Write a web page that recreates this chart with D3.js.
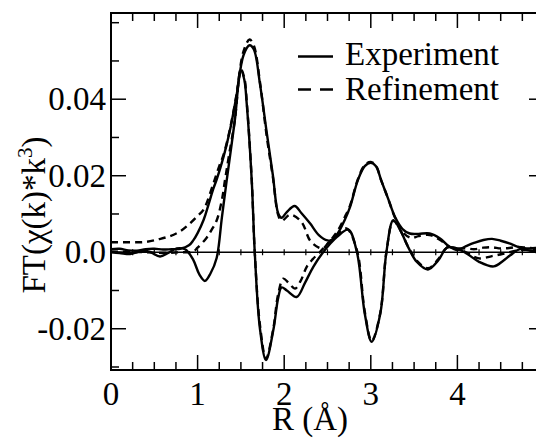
<!DOCTYPE html>
<html>
<head>
<meta charset="utf-8">
<script src="https://cdn.jsdelivr.net/npm/d3@7"></script>
<style>
  html, body { margin: 0; padding: 0; background: #fff; overflow: hidden; }
  svg { display: block; }
  text { font-family: "Liberation Serif", "Times New Roman", serif; fill: #000; }
</style>
</head>
<body>
<svg id="chart" width="536" height="438"></svg>
<script>
// ---- data ----
const xTickLabels = ["0", "1", "2", "3", "4"];
const xTickValues = [0, 1, 2, 3, 4];
const yTickValues = [-0.02, 0.0, 0.02, 0.04];
const yTickLabels = ["-0.02", "0.0", "0.02", "0.04"];
const legendLabels = ["Experiment", "Refinement"];

const rExpMag = [0, 0.1, 0.2, 0.3, 0.4, 0.5, 0.6, 0.7, 0.8, 0.9, 0.95, 1.0, 1.07, 1.12, 1.18, 1.22, 1.3, 1.37, 1.45, 1.53, 1.6, 1.65, 1.72, 1.8, 1.87, 1.93, 1.97, 2.03, 2.12, 2.2, 2.3, 2.4, 2.5, 2.55, 2.62, 2.7, 2.76, 2.85, 2.93, 3.0, 3.06, 3.12, 3.2, 3.28, 3.37, 3.45, 3.55, 3.68, 3.8, 3.9, 4.0, 4.1, 4.2, 4.3, 4.4, 4.5, 4.6, 4.7, 4.8, 4.9, 5.0];
const expMag = [0.0008, 0.0009, 0.0005, 0.0004, 0.0008, 0.0009, 0.0007, 0.0008, 0.0009, 0.0018, 0.0031, 0.0050, 0.0085, 0.0120, 0.0165, 0.0190, 0.0250, 0.0315, 0.0410, 0.0515, 0.0541, 0.0530, 0.0440, 0.0310, 0.0200, 0.0102, 0.0090, 0.0105, 0.0121, 0.0102, 0.0075, 0.0045, 0.0031, 0.0032, 0.0050, 0.0085, 0.0118, 0.0188, 0.0225, 0.0234, 0.0225, 0.0188, 0.0140, 0.0092, 0.0060, 0.0049, 0.0048, 0.0049, 0.0036, 0.0016, 0.0006, 0.0016, 0.0025, 0.0032, 0.0035, 0.0030, 0.0023, 0.0014, 0.0010, 0.0011, 0.0012];

const rExpIm = [0, 0.1, 0.22, 0.3, 0.37, 0.45, 0.566, 0.66, 0.76, 0.86, 0.95, 1.02, 1.085, 1.15, 1.22, 1.28, 1.336, 1.43, 1.5, 1.54, 1.567, 1.625, 1.66, 1.72, 1.79, 1.874, 1.93, 1.97, 2.03, 2.144, 2.24, 2.336, 2.45, 2.61, 2.74, 2.84, 2.93, 3.01, 3.11, 3.18, 3.26, 3.34, 3.43, 3.53, 3.66, 3.78, 3.88, 3.99, 4.11, 4.25, 4.42, 4.53, 4.61, 4.72, 4.82, 4.92, 5.0];
const expIm = [0.0000, -0.0002, -0.0005, 0.0000, 0.0004, 0.0001, -0.0011, -0.0002, 0.0010, 0.0007, -0.0020, -0.0058, -0.0075, -0.0055, -0.0015, 0.0090, 0.0188, 0.0345, 0.0476, 0.0450, 0.0389, 0.0188, 0.0000, -0.0200, -0.0282, -0.0204, -0.0120, -0.0092, -0.0100, -0.0117, -0.0080, -0.0038, 0.0000, 0.0040, 0.0059, 0.0000, -0.0160, -0.0234, -0.0160, 0.0000, 0.0084, 0.0058, 0.0014, -0.0025, -0.0045, -0.0021, 0.0012, 0.0010, -0.0004, -0.0025, -0.0037, -0.0022, -0.0008, 0.0008, 0.0005, 0.0000, -0.0002];

const rRefMag = [0, 0.2, 0.4, 0.55, 0.68, 0.8, 0.91, 1.0, 1.07, 1.18, 1.25, 1.3, 1.37, 1.45, 1.53, 1.6, 1.65, 1.72, 1.8, 1.87, 1.93, 1.97, 2.07, 2.2, 2.3, 2.4, 2.45, 2.5, 2.55, 2.62, 2.7, 2.76, 2.85, 2.93, 3.0, 3.06, 3.12, 3.2, 3.28, 3.37, 3.47, 3.55, 3.68, 3.8, 3.9, 4.0, 4.1, 4.2, 4.3, 4.4, 4.5, 4.6, 4.7, 4.8, 4.9, 5.0];
const refMag = [0.0026, 0.0026, 0.0027, 0.0034, 0.0042, 0.0055, 0.0075, 0.0095, 0.0112, 0.0178, 0.0225, 0.0255, 0.0318, 0.0413, 0.0525, 0.0556, 0.0540, 0.0445, 0.0300, 0.0195, 0.0098, 0.0082, 0.0098, 0.0079, 0.0030, 0.0012, 0.0010, 0.0022, 0.0035, 0.0057, 0.0092, 0.0122, 0.0190, 0.0228, 0.0236, 0.0226, 0.0188, 0.0140, 0.0090, 0.0052, 0.0037, 0.0042, 0.0045, 0.0032, 0.0015, 0.0010, 0.0010, 0.0008, 0.0012, 0.0013, 0.0010, 0.0011, 0.0014, 0.0012, 0.0010, 0.0009];

const rRefIm = [0, 0.2, 0.4, 0.6, 0.8, 0.95, 1.0, 1.105, 1.16, 1.22, 1.28, 1.316, 1.36, 1.43, 1.5, 1.54, 1.567, 1.625, 1.66, 1.72, 1.79, 1.874, 1.93, 1.99, 2.05, 2.125, 2.19, 2.26, 2.33, 2.41, 2.5, 2.61, 2.72, 2.84, 2.93, 3.01, 3.11, 3.18, 3.26, 3.34, 3.43, 3.53, 3.66, 3.78, 3.88, 3.99, 4.1, 4.25, 4.4, 4.55, 4.7, 4.85, 5.0];
const refIm = [0.0002, 0.0001, 0.0000, -0.0002, 0.0000, 0.0002, 0.0012, 0.0038, 0.0058, 0.0083, 0.0136, 0.0188, 0.0250, 0.0345, 0.0478, 0.0455, 0.0395, 0.0190, 0.0000, -0.0190, -0.0278, -0.0200, -0.0110, -0.0069, -0.0080, -0.0095, -0.0075, -0.0038, -0.0018, 0.0000, 0.0022, 0.0045, 0.0062, 0.0005, -0.0155, -0.0232, -0.0158, 0.0000, 0.0082, 0.0058, 0.0015, -0.0022, -0.0042, -0.0018, 0.0012, 0.0010, 0.0000, -0.0016, -0.0010, -0.0003, 0.0005, 0.0006, 0.0004];

// ---- layout ----
const svg = d3.select("#chart");
const pL = 111, pR = 544, pT = 13, pB = 370;
const FS = 33;
const x = d3.scaleLinear().domain([0, 5]).range([pL, pR]);
const y = d3.scaleLinear().domain([-0.03, 0.06]).range([367, 22.7]);

const line = d3.line().x(d => x(d[0])).y(d => y(d[1])).curve(d3.curveCatmullRom.alpha(0.5));
const series = [
  { r: rExpMag, v: expMag, dash: null },
  { r: rExpIm, v: expIm, dash: null },
  { r: rRefMag, v: refMag, dash: "7,5" },
  { r: rRefIm, v: refIm, dash: "7,5" }
];
svg.append("clipPath").attr("id", "clip").append("rect")
  .attr("x", pL).attr("y", pT).attr("width", pR - pL).attr("height", pB - pT);
const g = svg.append("g").attr("clip-path", "url(#clip)");
series.forEach(s => {
  g.append("path")
    .datum(s.r.map((r, i) => [r, s.v[i]]))
    .attr("d", line)
    .attr("fill", "none")
    .attr("stroke", "#000")
    .attr("stroke-width", 2.4)
    .attr("stroke-dasharray", s.dash);
});

// zero line with small ticks
svg.append("line").attr("x1", pL).attr("x2", pR).attr("y1", y(0)).attr("y2", y(0))
  .attr("stroke", "#000").attr("stroke-width", 1.4);
const zeroTicks = d3.range(0.25, 5, 0.25);
svg.append("g").selectAll("line").data(zeroTicks).join("line")
  .attr("x1", d => x(d)).attr("x2", d => x(d))
  .attr("y1", y(0) - 3).attr("y2", y(0) + 3)
  .attr("stroke", "#000").attr("stroke-width", 1.2);

// frame
svg.append("rect").attr("x", pL).attr("y", pT).attr("width", pR - pL).attr("height", pB - pT)
  .attr("fill", "none").attr("stroke", "#000").attr("stroke-width", 2);

// x ticks (bottom and top, inward)
const xMinor = d3.range(0, 5.001, 0.25);
const isMajorX = d => Math.abs(d - Math.round(d)) < 1e-6;
const xt = svg.append("g");
xMinor.forEach(d => {
  const len = isMajorX(d) ? 15 : 8;
  xt.append("line").attr("x1", x(d)).attr("x2", x(d)).attr("y1", pB).attr("y2", pB - len)
    .attr("stroke", "#000").attr("stroke-width", 1.5);
  xt.append("line").attr("x1", x(d)).attr("x2", x(d)).attr("y1", pT).attr("y2", pT + len)
    .attr("stroke", "#000").attr("stroke-width", 1.5);
});
xt.selectAll("text").data(xTickValues).join("text")
  .attr("x", d => x(d)).attr("y", 405)
  .attr("text-anchor", "middle").attr("font-size", FS)
  .text((d, i) => xTickLabels[i]);

// y ticks (left and right, inward)
const yMinor = [-0.03, -0.01, 0.01, 0.03, 0.05, 0.06];
const yt = svg.append("g");
yTickValues.forEach(d => {
  yt.append("line").attr("x1", pL).attr("x2", pL + 15).attr("y1", y(d)).attr("y2", y(d))
    .attr("stroke", "#000").attr("stroke-width", 1.5);
  yt.append("line").attr("x1", pR).attr("x2", pR - 15).attr("y1", y(d)).attr("y2", y(d))
    .attr("stroke", "#000").attr("stroke-width", 1.5);
});
yMinor.forEach(d => {
  yt.append("line").attr("x1", pL).attr("x2", pL + 8).attr("y1", y(d)).attr("y2", y(d))
    .attr("stroke", "#000").attr("stroke-width", 1.5);
  yt.append("line").attr("x1", pR).attr("x2", pR - 8).attr("y1", y(d)).attr("y2", y(d))
    .attr("stroke", "#000").attr("stroke-width", 1.5);
});
yt.selectAll("text").data(yTickValues).join("text")
  .attr("x", 106).attr("y", d => y(d) + 11)
  .attr("text-anchor", "end").attr("font-size", FS)
  .text((d, i) => yTickLabels[i]);

// axis titles
svg.append("text").attr("x", 310).attr("y", 430).attr("text-anchor", "middle")
  .attr("font-size", FS).text("R (Å)");
const yl = svg.append("text").attr("transform", "translate(45,215) rotate(-90)")
  .attr("text-anchor", "middle").attr("font-size", FS);
yl.append("tspan").text("FT(χ(k)*k");
yl.append("tspan").attr("font-size", 21).attr("dy", -13).text("3");
yl.append("tspan").attr("dy", 13).text(")");

// legend
const leg = svg.append("g");
leg.append("line").attr("x1", 298).attr("x2", 333).attr("y1", 56.5).attr("y2", 56.5)
  .attr("stroke", "#000").attr("stroke-width", 2.5);
leg.append("line").attr("x1", 298).attr("x2", 333).attr("y1", 89.5).attr("y2", 89.5)
  .attr("stroke", "#000").attr("stroke-width", 2.5).attr("stroke-dasharray", "13,9");
leg.append("text").attr("x", 345).attr("y", 65).attr("font-size", FS).text(legendLabels[0]);
leg.append("text").attr("x", 345).attr("y", 100).attr("font-size", FS).text(legendLabels[1]);
</script>
</body>
</html>
